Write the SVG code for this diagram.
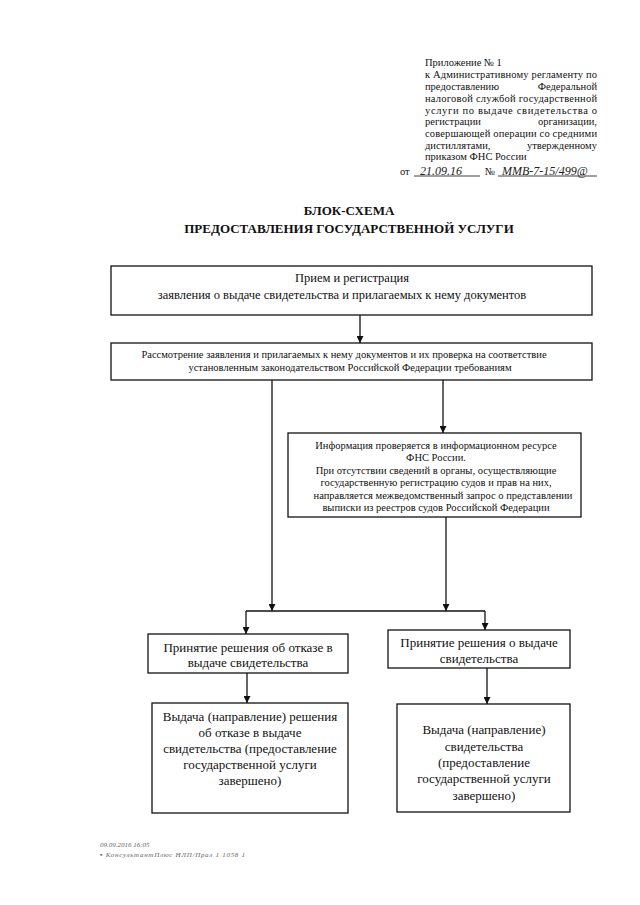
<svg xmlns="http://www.w3.org/2000/svg" width="640" height="905" viewBox="0 0 640 905">
<style>
  text { font-family: "Liberation Serif", "Times New Roman", serif; fill: #111; }
  .hdr { font-size: 10.5px; }
  .ttl { font-size: 13px; font-weight: bold; text-anchor: middle; }
  .box { fill: #fff; stroke: #111; stroke-width: 1.3; }
  .c { text-anchor: middle; }
  .t12 { font-size: 12.5px; }
  .t13 { font-size: 13px; }
  .t10 { font-size: 10.5px; }
  .hand { font-size: 12px; font-style: italic; fill: #222; }
  .conn line, .conn path { stroke: #111; stroke-width: 1.3; fill: none; }
  .foot { font-size: 7px; font-style: italic; fill: #666; }
</style>
<defs>
  <marker id="arr" viewBox="0 0 8 8" refX="8" refY="4" markerWidth="7" markerHeight="7" markerUnits="userSpaceOnUse" orient="auto">
    <path d="M0,0 L8,4 L0,8 z" fill="#111"/>
  </marker>
</defs>
<rect width="640" height="905" fill="#fff"/>

<g id="header">
  <text class="hdr" x="425" y="66">Приложение № 1</text>
  <text class="hdr" x="425" y="78" textLength="172" lengthAdjust="spacing">к Административному регламенту по</text>
  <text class="hdr" x="425" y="90">предоставлению</text>
  <text class="hdr" x="597" y="90" text-anchor="end">Федеральной</text>
  <text class="hdr" x="425" y="102" textLength="172" lengthAdjust="spacing">налоговой службой государственной</text>
  <text class="hdr" x="425" y="114" textLength="172" lengthAdjust="spacing">услуги по выдаче свидетельства о</text>
  <text class="hdr" x="425" y="125">регистрации</text>
  <text class="hdr" x="597" y="125" text-anchor="end">организации,</text>
  <text class="hdr" x="425" y="137" textLength="172" lengthAdjust="spacing">совершающей операции со средними</text>
  <text class="hdr" x="425" y="149">дистиллятами,</text>
  <text class="hdr" x="597" y="149" text-anchor="end">утвержденному</text>
  <text class="hdr" x="425" y="160">приказом ФНС России</text>
  <text class="hdr" x="400" y="175">от</text>
  <line x1="414" y1="176" x2="480" y2="176" stroke="#111" stroke-width="0.8"/>
  <text class="hand" x="420" y="174.5">21.09.16</text>
  <text class="hdr" x="485" y="175">№</text>
  <line x1="498" y1="176" x2="597" y2="176" stroke="#111" stroke-width="0.8"/>
  <text class="hand" x="502" y="174.5">ММВ-7-15/499@</text>
</g>

<g id="title">
  <text class="ttl" x="349" y="215">БЛОК-СХЕМА</text>
  <text class="ttl" x="349" y="233">ПРЕДОСТАВЛЕНИЯ ГОСУДАРСТВЕННОЙ УСЛУГИ</text>
</g>

<g id="n1">
  <rect class="box" x="111" y="266" width="481" height="49"/>
  <text class="t12 c" x="352" y="282">Прием и регистрация</text>
  <text class="t12 c" x="342" y="299">заявления о выдаче свидетельства и прилагаемых к нему документов</text>
</g>

<g id="n2">
  <rect class="box" x="111" y="343" width="481" height="37"/>
  <text class="t10 c" x="344" y="358">Рассмотрение заявления и прилагаемых к нему документов и их проверка на соответствие</text>
  <text class="t10 c" x="350" y="371">установленным законодательством Российской Федерации требованиям</text>
</g>

<g id="n3">
  <rect class="box" x="288" y="433" width="293" height="84"/>
  <text class="t10 c" x="436" y="449">Информация проверяется в информационном ресурсе</text>
  <text class="t10 c" x="436" y="461">ФНС России.</text>
  <text class="t10 c" x="436" y="474">При отсутствии сведений в органы, осуществляющие</text>
  <text class="t10 c" x="436" y="486">государственную регистрацию судов и прав на них,</text>
  <text class="t10 c" x="443" y="499">направляется межведомственный запрос о представлении</text>
  <text class="t10 c" x="436" y="511">выписки из реестров судов Российской Федерации</text>
</g>

<g id="n4">
  <rect class="box" x="148" y="634" width="200" height="39"/>
  <text class="t13 c" x="248" y="652">Принятие решения об отказе в</text>
  <text class="t13 c" x="248" y="667">выдаче свидетельства</text>
</g>

<g id="n5">
  <rect class="box" x="388" y="630" width="182" height="38"/>
  <text class="t13 c" x="479" y="647">Принятие решения о выдаче</text>
  <text class="t13 c" x="479" y="663">свидетельства</text>
</g>

<g id="n6">
  <rect class="box" x="152" y="703" width="196" height="110"/>
  <text class="t13 c" x="250" y="721">Выдача (направление) решения</text>
  <text class="t13 c" x="250" y="737">об отказе в выдаче</text>
  <text class="t13 c" x="250" y="753">свидетельства (предоставление</text>
  <text class="t13 c" x="250" y="769">государственной услуги</text>
  <text class="t13 c" x="250" y="785">завершено)</text>
</g>

<g id="n7">
  <rect class="box" x="397" y="704" width="173" height="108"/>
  <text class="t13 c" x="484" y="734">Выдача (направление)</text>
  <text class="t13 c" x="484" y="751">свидетельства</text>
  <text class="t13 c" x="484" y="767">(предоставление</text>
  <text class="t13 c" x="484" y="783">государственной услуги</text>
  <text class="t13 c" x="484" y="800">завершено)</text>
</g>

<g id="connectors" class="conn">
  <line x1="360" y1="315" x2="360" y2="343" marker-end="url(#arr)"/>
  <line x1="272" y1="380" x2="272" y2="611" marker-end="url(#arr)"/>
  <line x1="443" y1="380" x2="443" y2="433" marker-end="url(#arr)"/>
  <line x1="446" y1="517" x2="446" y2="611" marker-end="url(#arr)"/>
  <line x1="246" y1="611" x2="485" y2="611"/>
  <line x1="246" y1="611" x2="246" y2="634" marker-end="url(#arr)"/>
  <line x1="485" y1="611" x2="485" y2="630" marker-end="url(#arr)"/>
  <line x1="247" y1="673" x2="247" y2="703" marker-end="url(#arr)"/>
  <line x1="487" y1="668" x2="487" y2="704" marker-end="url(#arr)"/>
</g>

<g id="footer">
  <text class="foot" x="100" y="847">09.09.2016 16:05</text>
  <text class="foot" x="100" y="857" textLength="145" lengthAdjust="spacing">▪ КонсультантПлюс НЛП/Прал 1 1058 1</text>
</g>
</svg>
